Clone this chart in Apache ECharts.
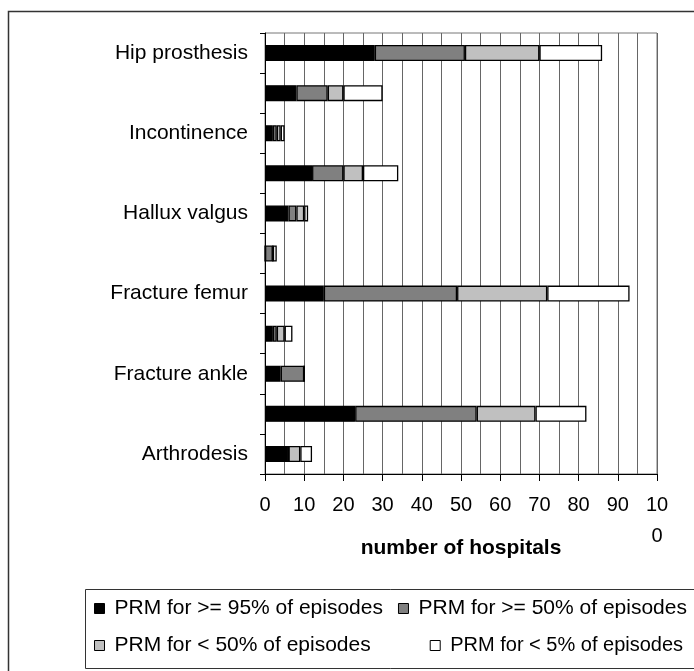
<!DOCTYPE html>
<html><head><meta charset="utf-8">
<script src="https://cdn.jsdelivr.net/npm/echarts@6/dist/echarts.min.js"></script>
<style>html,body{margin:0;padding:0;background:#fff}#c{width:694px;height:671px}</style>
</head><body><div id="c"></div>
<script>
const categories = ['Hip prosthesis','','Incontinence','','Hallux valgus','','Fracture femur','','Fracture ankle','','Arthrodesis'];
const seriesNames = ['PRM for >= 95% of episodes','PRM for >= 50% of episodes','PRM for < 50% of episodes','PRM for < 5% of episodes'];
const prm95 = [28, 8, 2, 12, 6, 0, 15, 2, 4, 23, 6];
const prm50 = [23, 8, 1, 8, 2, 2, 34, 1, 6, 31, 0];
const prmLess50 = [19, 4, 1, 5, 2, 0, 23, 2, 0, 15, 3];
const prmLess5 = [16, 10, 1, 9, 1, 1, 21, 2, 0, 13, 3];
const colors = ['#000000','#808080','#c0c0c0','#ffffff'];
const xMin = 0, xMax = 100, xInterval = 10;
const axisTitle = 'number of hospitals';

const font = 'Liberation Sans, Arial, sans-serif';
const chart = echarts.init(document.getElementById('c'), null, {renderer:'canvas'});
const values = [prm95, prm50, prmLess50, prmLess5];
const series = values.map((d,i)=>({
  name: seriesNames[i], type:'bar', stack:'total', data:d, barWidth:16,
  itemStyle:{color:colors[i], borderColor:'#000', borderWidth:1.3},
  emphasis:{disabled:true}
}));
const legendCommon = {
  itemWidth:10, itemHeight:10, icon:'rect', padding:0, width:680,
  textStyle:{fontFamily:font, fontSize:21, color:'#000', padding:[0,0,0,5]},
  itemStyle:{borderColor:'#000', borderWidth:1}
};
chart.setOption({
  animation:false,
  backgroundColor:'#fff',
  grid:{left:265, right:37, top:33, bottom:197, show:true, borderColor:'#777', borderWidth:1},
  xAxis:{type:'value', min:xMin, max:xMax, interval:xInterval,
    name:axisTitle, nameLocation:'middle', nameGap:64, nameMoveOverlap:false,
    nameTextStyle:{fontFamily:font, fontSize:21, fontWeight:'bold', color:'#000'},
    axisLine:{show:true, lineStyle:{color:'#000', width:1}},
    axisTick:{show:true, length:7, lineStyle:{color:'#000'}},
    axisLabel:{fontFamily:font, fontSize:20, color:'#000', margin:16, lineHeight:31,
      formatter:v=> v===100 ? '10\n0' : String(v)},
    splitLine:{show:true, lineStyle:{color:'#666', width:1}},
    minorTick:{show:false, splitNumber:2},
    minorSplitLine:{show:true, lineStyle:{color:'#666', width:1}}
  },
  yAxis:{type:'category', data:categories, inverse:true,
    axisLine:{show:true, lineStyle:{color:'#000', width:1}},
    axisTick:{show:true, length:5, interval:0, lineStyle:{color:'#000'}},
    axisLabel:{interval:1, fontFamily:font, fontSize:21, color:'#000', margin:17},
    splitLine:{show:false}
  },
  legend:[
    Object.assign({}, legendCommon, {data:[seriesNames[0], seriesNames[1]], left:94, top:598, itemGap:15}),
    Object.assign({}, legendCommon, {data:[seriesNames[2], {name:seriesNames[3], textStyle:{fontSize:20}}], left:94, top:635, itemGap:59})
  ],
  graphic:[
    {type:'rect', silent:true, shape:{x:8.5, y:11.5, width:800, height:800}, style:{fill:null, stroke:'#333', lineWidth:1.5}, z:-1},
    {type:'rect', silent:true, shape:{x:85.5, y:589.5, width:700, height:79}, style:{fill:null, stroke:'#333', lineWidth:1}, z:-1}
  ],
  series:series
});
</script></body></html>
